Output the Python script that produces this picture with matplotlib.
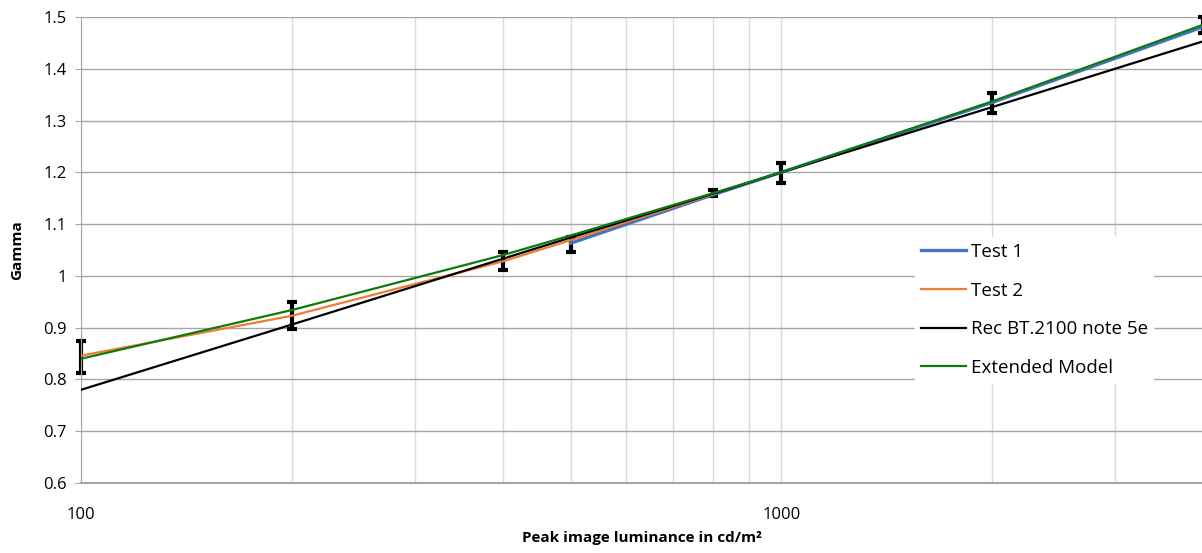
import numpy as np
import matplotlib.pyplot as plt
from matplotlib.ticker import FixedLocator, NullFormatter, FixedFormatter

# Peak luminance (cd/m2) where values were read
LUM = [100, 200, 400, 500, 800, 1000, 2000, 4000]

# Test series
TEST1_X = [500, 800, 1000, 2000, 4000]
TEST1_Y = [1.063, 1.157, 1.200, 1.335, 1.481]
TEST2_X = [100, 200, 400, 500, 800]
TEST2_Y = [0.846, 0.923, 1.028, 1.069, 1.158]

# Models
REC_Y = [0.780, 0.906, 1.033, 1.074, 1.159, 1.200, 1.326, 1.453]
EXT_Y = [0.840, 0.934, 1.040, 1.078, 1.160, 1.200, 1.337, 1.485]

# Measured gamma with error bars
ERR_MEAN = [0.8435, 0.9235, 1.0295, 1.0615, 1.160, 1.199, 1.3345, 1.485]
ERR_HALF = [0.031, 0.027, 0.0175, 0.0145, 0.005, 0.019, 0.0195, 0.015]

BLUE = "#4472C4"
ORANGE = "#ED7D31"
GREEN = "#0E7A0E"
HGRID = "#A6A6A6"
VGRID = "#D9D9D9"

plt.rcParams['font.family'] = ['Open Sans', 'DejaVu Sans']

fig = plt.figure(figsize=(12.02, 5.53), dpi=100)
ax = fig.add_axes([81 / 1202, 1 - 483 / 553, 1122 / 1202, 466 / 553])

ax.set_xscale('log')
ax.set_xlim(100, 4000)
ax.set_ylim(0.6, 1.5)

# grid
ax.xaxis.set_major_locator(FixedLocator([100, 1000]))
ax.xaxis.set_minor_locator(FixedLocator([200, 300, 400, 500, 600, 700, 800, 900, 2000, 3000]))
ax.xaxis.set_major_formatter(FixedFormatter(['100', '1000']))
ax.xaxis.set_minor_formatter(NullFormatter())
ax.set_yticks(np.arange(0.6, 1.51, 0.1))
ax.set_yticklabels(['0.6', '0.7', '0.8', '0.9', '1', '1.1', '1.2', '1.3', '1.4', '1.5'])
ax.grid(True, which='both', axis='x', color=VGRID, linewidth=1.0, zorder=0)
ax.grid(True, which='major', axis='y', color=HGRID, linewidth=1.0, zorder=0)
ax.set_axisbelow(True)

for side in ['top', 'right']:
    ax.spines[side].set_visible(False)
ax.spines['left'].set_color(HGRID)
ax.spines['bottom'].set_color(HGRID)
ax.spines['bottom'].set_linewidth(1.5)

ax.tick_params(axis='x', which='both', length=0, pad=17, labelsize=12)
ax.tick_params(axis='y', length=4, color=HGRID, pad=6, labelsize=12)

# error bars
ax.errorbar(LUM, ERR_MEAN, yerr=ERR_HALF, fmt='none', ecolor='black',
            elinewidth=3, capsize=3.5, capthick=3, zorder=2, clip_on=False)

# curves
ax.plot(TEST1_X, TEST1_Y, color=BLUE, linewidth=2.4, label='Test 1', zorder=3)
ax.plot(TEST2_X, TEST2_Y, color=ORANGE, linewidth=1.6, label='Test 2', zorder=3)
ax.plot(LUM, REC_Y, color='black', linewidth=1.6, label='Rec BT.2100 note 5e', zorder=3)
ax.plot(LUM, EXT_Y, color=GREEN, linewidth=1.6, label='Extended Model', zorder=4)

ax.set_xlabel('Peak image luminance in cd/m²', fontsize=11, fontweight='bold', labelpad=6)
ax.set_ylabel('Gamma', fontsize=11, fontweight='bold', labelpad=14)

leg = ax.legend(loc='upper left', bbox_to_anchor=(906 / 1202, 1 - 228 / 553),
                bbox_transform=fig.transFigure, frameon=True, fancybox=False,
                edgecolor='white', facecolor='white', framealpha=1.0,
                fontsize=13.5, handlelength=2.4, handletextpad=0.25,
                labelspacing=1.1, borderpad=0.3)

fig.savefig('out.png', dpi=100)
